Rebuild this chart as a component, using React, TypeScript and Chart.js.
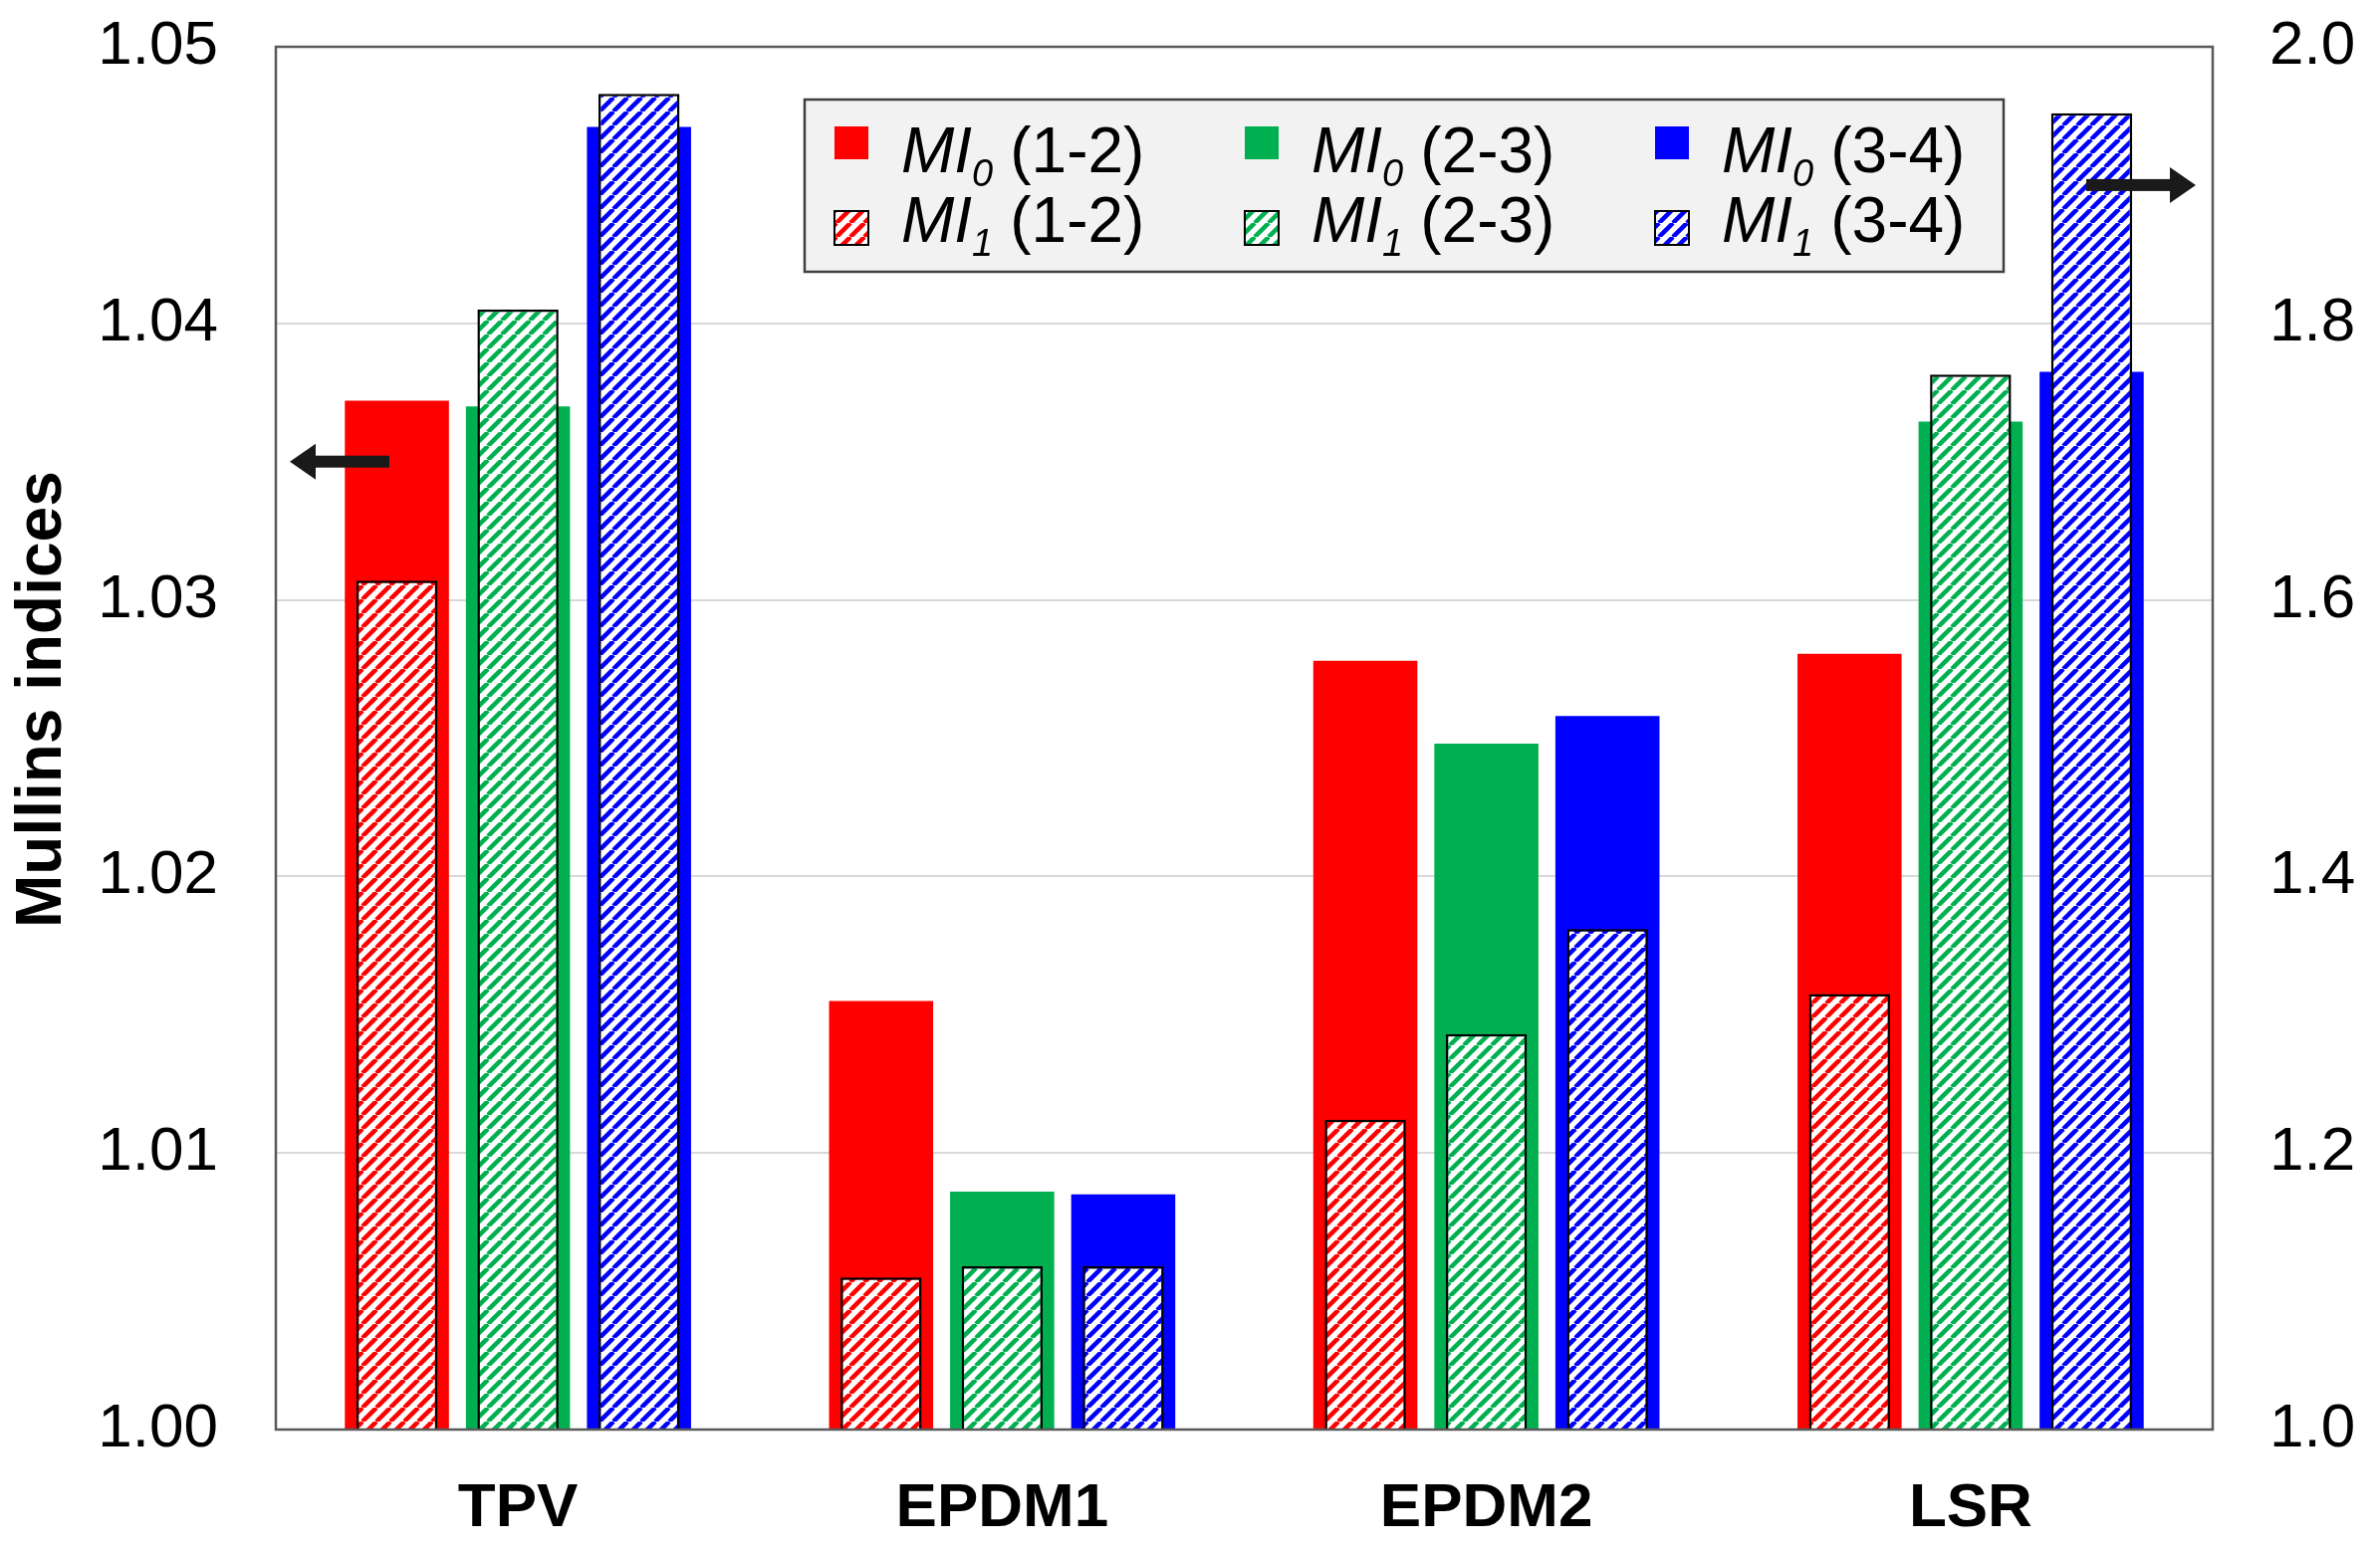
import { useEffect, useRef } from "react";
import { Chart, registerables } from "chart.js";

Chart.register(...registerables);

const FONT = "Arial, 'Liberation Sans', sans-serif";

const CATEGORIES = ["TPV", "EPDM1", "EPDM2", "LSR"];

// left axis values for TPV, EPDM1, EPDM2
const MI0_12 = [1.0372, 1.0155, 1.0278];
const MI0_23 = [1.037, 1.0086, 1.0248];
const MI0_34 = [1.0471, 1.0085, 1.0258];
const MI1_12 = [1.0307, 1.0055, 1.0112];
const MI1_23 = [1.0405, 1.0059, 1.0143];
const MI1_34 = [1.0483, 1.0059, 1.0181];

// LSR is read on the right axis: (1-2), (2-3), (3-4)
const LSR_MI0 = [1.561, 1.729, 1.765];
const LSR_MI1 = [1.315, 1.763, 1.952];

const LEFT_TICKS = [1.0, 1.01, 1.02, 1.03, 1.04, 1.05];
const RIGHT_TICKS = [1.0, 1.2, 1.4, 1.6, 1.8, 2.0];

const RANGES = ["(1-2)", "(2-3)", "(3-4)"];
const COLORS = ["#ff0000", "#00b050", "#0000ff"];

// where the axis arrows sit
const LEFT_ARROW_AT = 1.035;
const RIGHT_ARROW_AT = 1.9;

function hatch(color: string) {
  const s = 14;
  const c = document.createElement("canvas");
  c.width = s;
  c.height = s;
  const g = c.getContext("2d")!;
  g.fillStyle = "#fff";
  g.fillRect(0, 0, s, s);
  g.strokeStyle = color;
  g.lineWidth = 4.5;
  g.beginPath();
  for (const off of [-s, 0, s]) {
    g.moveTo(off, s);
    g.lineTo(off + s, 0);
  }
  g.stroke();
  return g.createPattern(c, "repeat")!;
}

function arrow(ctx: CanvasRenderingContext2D, x1: number, x2: number, y: number) {
  // from x1 (tail) to x2 (tip)
  const dir = Math.sign(x2 - x1);
  const head = 26;
  ctx.fillStyle = "#1a1a1a";
  ctx.fillRect(Math.min(x1, x2 - dir * head), y - 6, Math.abs(x2 - x1) - head, 12);
  ctx.beginPath();
  ctx.moveTo(x2, y);
  ctx.lineTo(x2 - dir * head, y - 18);
  ctx.lineTo(x2 - dir * head, y + 18);
  ctx.closePath();
  ctx.fill();
}

function legendLabel(ctx: CanvasRenderingContext2D, x: number, y: number, sub: string, range: string) {
  ctx.fillStyle = "#000";
  ctx.textBaseline = "alphabetic";
  ctx.textAlign = "left";
  ctx.font = `italic 64px ${FONT}`;
  ctx.fillText("MI", x, y);
  let cx = x + ctx.measureText("MI").width;
  ctx.font = `italic 38px ${FONT}`;
  ctx.fillText(sub, cx, y + 14);
  cx += ctx.measureText(sub).width + 17;
  ctx.font = `64px ${FONT}`;
  ctx.fillText(range, cx, y);
}

export default function App() {
  const canvasRef = useRef<HTMLCanvasElement>(null);
  const chartRef = useRef<Chart | null>(null);

  useEffect(() => {
    if (!canvasRef.current) return;
    if (chartRef.current) chartRef.current.destroy();
    const ctx = canvasRef.current.getContext("2d");
    if (!ctx) return;

    const patterns = COLORS.map(hatch);
    const MI0 = [MI0_12, MI0_23, MI0_34];
    const MI1 = [MI1_12, MI1_23, MI1_34];
    const stacks = ["s12", "s23", "s34"];

    const datasets: any[] = [];
    for (let k = 0; k < 3; k++) {
      const hatched = {
        backgroundColor: patterns[k],
        borderColor: "#000",
        borderWidth: 2.5,
        barPercentage: 0.67,
        categoryPercentage: 0.75,
        order: 0,
        skipNull: true,
        stack: stacks[k],
      };
      const solid = {
        backgroundColor: COLORS[k],
        borderWidth: 0,
        barPercentage: 0.86,
        categoryPercentage: 0.75,
        order: 1,
        skipNull: true,
        stack: stacks[k],
      };
      datasets.push({ ...hatched, label: `MI1 ${RANGES[k]}`, yAxisID: "y", data: [...MI1[k], null] });
      datasets.push({ ...hatched, label: `MI1 ${RANGES[k]} LSR`, yAxisID: "y2", data: [null, null, null, LSR_MI1[k]] });
      datasets.push({ ...solid, label: `MI0 ${RANGES[k]}`, yAxisID: "y", data: [...MI0[k], null] });
      datasets.push({ ...solid, label: `MI0 ${RANGES[k]} LSR`, yAxisID: "y2", data: [null, null, null, LSR_MI0[k]] });
    }

    const overlay = {
      id: "overlay",
      afterDatasetsDraw(chart: any) {
        const { ctx: c, chartArea: a, scales } = chart;
        c.save();
        // plot frame
        c.strokeStyle = "#595959";
        c.lineWidth = 2.5;
        c.strokeRect(a.left, a.top, a.right - a.left, a.bottom - a.top);

        // legend box
        const bx = a.left + 531;
        const by = a.top + 53;
        c.fillStyle = "#f2f2f2";
        c.fillRect(bx, by, 1204, 173);
        c.strokeStyle = "#404040";
        c.lineWidth = 2.5;
        c.strokeRect(bx, by, 1204, 173);
        for (let k = 0; k < 3; k++) {
          const cx = bx + k * 412;
          c.fillStyle = COLORS[k];
          c.fillRect(cx + 30, by + 27, 34, 33);
          legendLabel(c, cx + 97, by + 73, "0", RANGES[k]);
          c.fillStyle = patterns[k];
          c.fillRect(cx + 30, by + 112, 34, 34);
          c.strokeStyle = "#000";
          c.lineWidth = 2;
          c.strokeRect(cx + 30, by + 112, 34, 34);
          legendLabel(c, cx + 97, by + 143, "1", RANGES[k]);
        }

        // axis arrows
        arrow(c, a.left + 114, a.left + 14, scales.y.getPixelForValue(LEFT_ARROW_AT));
        arrow(c, a.right - 127, a.right - 17, scales.y2.getPixelForValue(RIGHT_ARROW_AT));

        // y title
        c.translate(43, a.top + 0.472 * (a.bottom - a.top));
        c.rotate(-Math.PI / 2);
        c.fillStyle = "#000";
        c.font = `bold 64px ${FONT}`;
        c.textAlign = "center";
        c.textBaseline = "middle";
        c.fillText("Mullins indices", 0, 0);
        c.restore();
      },
    };

    chartRef.current = new Chart(ctx, {
      type: "bar",
      data: { labels: CATEGORIES, datasets },
      plugins: [overlay],
      options: {
        animation: false,
        responsive: true,
        maintainAspectRatio: false,
        layout: { padding: { top: 47, left: 0, right: 0, bottom: 0 } },
        plugins: { legend: { display: false }, tooltip: { enabled: false } },
        scales: {
          x: {
            type: "category",
            stacked: true,
            offset: true,
            grid: { display: false },
            border: { display: false },
            ticks: { color: "#000", padding: 35, font: { family: FONT, size: 62, weight: "bold" } },
            afterFit: (s: any) => {
              s.height = 121;
            },
          },
          y: {
            type: "linear",
            position: "left",
            stacked: false,
            min: 1.0,
            max: 1.05,
            afterBuildTicks: (s: any) => {
              s.ticks = LEFT_TICKS.map((value) => ({ value }));
            },
            ticks: {
              color: "#000",
              padding: 0,
              font: { family: FONT, size: 62 },
              callback: (v: any) => Number(v).toFixed(2),
            },
            grid: { color: "#d9d9d9", lineWidth: 2, drawTicks: true, tickLength: 58, tickColor: "rgba(0,0,0,0)" },
            border: { display: false },
            afterFit: (s: any) => {
              s.width = 277;
            },
          },
          y2: {
            type: "linear",
            position: "right",
            stacked: false,
            min: 1.0,
            max: 2.0,
            afterBuildTicks: (s: any) => {
              s.ticks = RIGHT_TICKS.map((value) => ({ value }));
            },
            ticks: {
              color: "#000",
              padding: 0,
              font: { family: FONT, size: 62 },
              callback: (v: any) => Number(v).toFixed(1),
            },
            grid: { drawOnChartArea: false, drawTicks: true, tickLength: 57, tickColor: "rgba(0,0,0,0)" },
            border: { display: false },
            afterFit: (s: any) => {
              s.width = 168;
            },
          },
        },
      } as any,
    });

    return () => {
      if (chartRef.current) {
        chartRef.current.destroy();
        chartRef.current = null;
      }
    };
  }, []);

  return (
    <div style={{ position: "fixed", left: 0, top: 0, width: 2390, height: 1557, background: "#fff" }}>
      <canvas ref={canvasRef} />
    </div>
  );
}
